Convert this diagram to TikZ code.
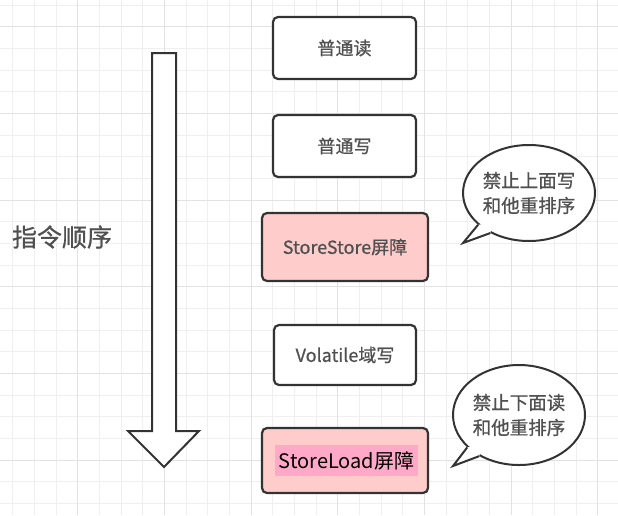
\documentclass[tikz,border=0pt]{standalone}
\usepackage{fontspec}
\setmainfont{Noto Sans CJK SC}
\newfontfamily\medfont{Noto Sans CJK SC}[FakeBold=0.7]
\usetikzlibrary{shapes.geometric,calc}
\definecolor{gridminor}{HTML}{EFEFEF}
\definecolor{gridmajor}{HTML}{E2E2E2}
\definecolor{edge}{HTML}{333333}
\definecolor{txt}{HTML}{505050}
\definecolor{pinkfill}{HTML}{FFCCCC}
\definecolor{pinkhl}{HTML}{FFA8C8}
\tikzset{
  minor/.style={gridminor,line width=0.8pt},
  major/.style={gridmajor,line width=0.9pt},
  opbox/.style={draw=edge,line width=2.2pt,rounded corners=5pt,fill=white,
    text=txt,font=\medfont\fontsize{18}{22}\selectfont,inner sep=0pt},
  barrier/.style={opbox,fill=pinkfill},
  bubble/.style={ellipse,draw=edge,line width=2pt,fill=white,inner sep=0pt,
    minimum width=132pt,minimum height=96pt,text=txt,align=center,
    font=\medfont\fontsize{18.5}{25}\selectfont},
  tailedge/.style={draw=edge,line width=2pt,line join=miter},
  bigarrow/.style={draw=edge,line width=2pt,fill=white,line join=miter},
}
\begin{document}
\begin{tikzpicture}[x=1pt,y=-1pt]
\useasboundingbox (0,0) rectangle (618,515);
\fill[white] (0,0) rectangle (618,515);
% grid
\foreach \k in {0,...,28} \draw[minor] ({12.67+21.667*\k},0) -- ++(0,515);
\foreach \k in {0,...,23} \draw[minor] (0,{5+21.667*\k}) -- ++(618,0);
\foreach \k in {0,...,6} \draw[major] ({77.67+86.667*\k},0) -- ++(0,515);
\foreach \k in {0,...,5} \draw[major] (0,{26.67+86.667*\k}) -- ++(618,0);
% order arrow
\draw[bigarrow] (152,53) -- (176,53) -- (176,431) -- (199,431) -- (164,467)
  -- (128,431) -- (152,431) -- cycle;
\node[text=txt,font=\medfont\fontsize{25}{30}\selectfont,inner sep=0pt] (order) at (62,237) {指令顺序};
% boxes
\node[opbox,minimum width=143pt,minimum height=62pt] (r) at (344.5,48) {普通读};
\node[opbox,minimum width=143pt,minimum height=62pt] (w) at (344.5,146) {普通写};
\node[barrier,minimum width=166pt,minimum height=68pt] (ss) at (345,247) {StoreStore屏障};
\node[opbox,minimum width=142pt,minimum height=60pt] (vw) at (345,355) {Volatile域写};
\node[barrier,minimum width=166pt,minimum height=65pt] (sl) at (345,460.5) {};
\node[fill=pinkhl,minimum width=143pt,minimum height=31pt,inner sep=0pt,
  text=black,font=\fontsize{20}{24}\selectfont] (slt) at (346.5,460.5) {StoreLoad屏障};
% bubble 1
\node[bubble] (b1) at (529,193) {禁止上面写\\和他重排序};
\coordinate (t1) at (463,243);
\fill[white] (b1.212) -- (t1) -- (b1.226) -- ($(b1.center)!0.8!(b1.219)$) -- cycle;
\draw[tailedge] (b1.212) -- (t1) -- (b1.226);
% bubble 2
\node[bubble,minimum height=100pt] (b2) at (519,415) {禁止下面读\\和他重排序};
\coordinate (t2) at (453,466);
\fill[white] (b2.212) -- (t2) -- (b2.226) -- ($(b2.center)!0.8!(b2.219)$) -- cycle;
\draw[tailedge] (b2.212) -- (t2) -- (b2.226);
\end{tikzpicture}
\end{document}
